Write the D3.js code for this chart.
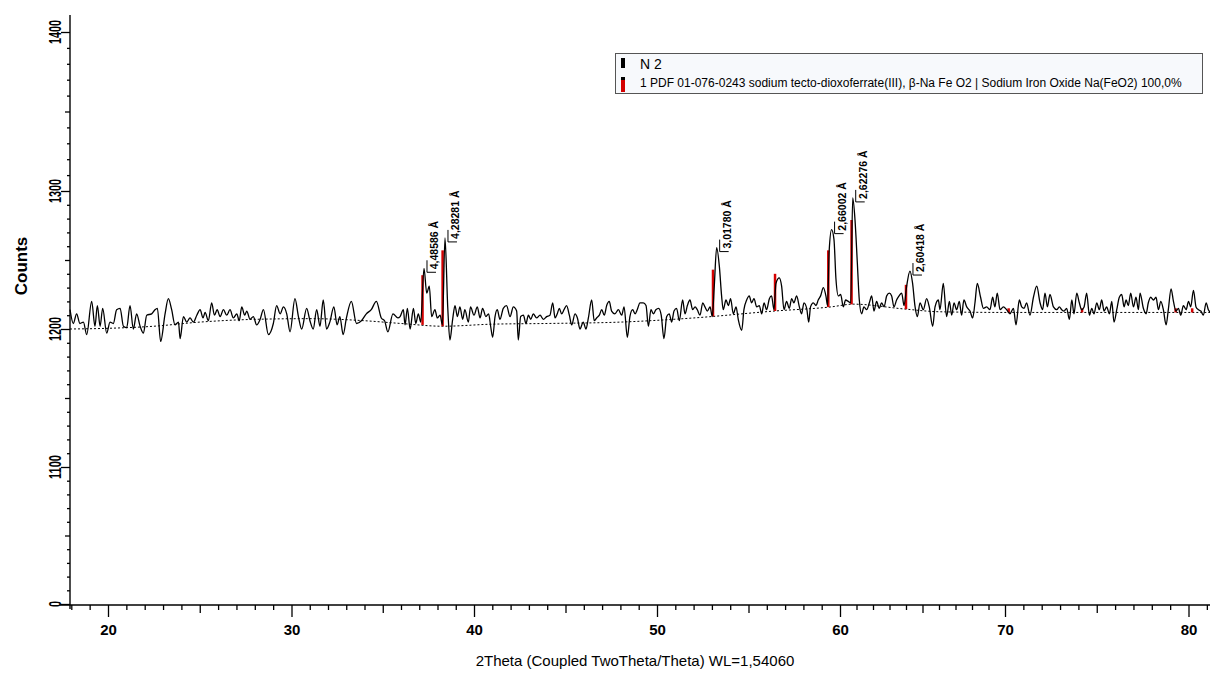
<!DOCTYPE html>
<html>
<head>
<meta charset="utf-8">
<script src="https://cdn.jsdelivr.net/npm/d3@7"></script>
<style>
  body { margin: 0; background: #fff; }
  svg { display: block; font-family: 'Liberation Sans', Arial, sans-serif; }
</style>
</head>
<body>
<svg id="chart" width="1210" height="679"></svg>
<script>
// scan: [2theta, counts]
let scan = [
  [17.93,1214],[18.11,1204],[18.29,1211],[18.47,1204],[18.66,1205],[18.84,1196],[19.11,1220],[19.29,1202],
  [19.42,1217],[19.57,1202],[19.71,1215],[19.93,1197],[20.11,1205],[20.29,1204],[20.47,1214],[20.66,1215],
  [20.84,1202],[21.02,1201],[21.20,1217],[21.38,1200],[21.56,1211],[21.75,1202],[21.93,1197],[22.11,1210],
  [22.38,1211],[22.56,1214],[22.69,1215],[22.87,1191],[23.11,1211],[23.29,1222],[23.47,1214],[23.65,1203],
  [23.84,1205],[23.93,1193],[24.11,1209],[24.29,1205],[24.47,1208],[24.65,1205],[24.84,1210],[25.02,1214],
  [25.18,1208],[25.29,1212],[25.47,1206],[25.65,1219],[25.80,1210],[25.95,1214],[26.11,1209],[26.29,1214],
  [26.47,1210],[26.65,1214],[26.83,1208],[27.02,1211],[27.15,1206],[27.29,1216],[27.45,1210],[27.56,1213],
  [27.74,1207],[27.92,1209],[28.10,1203],[28.29,1207],
  [28.47,1214],[28.74,1196],[29.01,1204],[29.19,1217],[29.38,1211],[29.56,1216],[29.74,1211],[29.92,1198],
  [30.19,1222],[30.38,1209],[30.56,1200],[30.83,1215],[31.01,1206],[31.19,1200],[31.38,1214],[31.56,1202],
  [31.74,1221],[31.92,1200],[32.10,1205],[32.32,1216],[32.50,1203],[32.65,1209],[32.83,1196],[33.01,1208],
  [33.28,1220],[33.56,1204],[33.83,1206],[34.10,1211],[34.37,1214],[34.65,1220],[34.92,1208],[35.10,1206],
  [35.28,1198],[35.56,1211],[35.83,1208],
  [35.95,1209],[36.13,1214],[36.22,1203],[36.35,1215],[36.50,1200],[36.68,1215],[36.81,1204],[36.95,1211],
  [37.08,1205],[37.26,1244],[37.41,1226],[37.55,1231],[37.68,1209],[37.86,1214],[37.99,1208],[38.14,1210],
  [38.27,1203],[38.41,1266],[38.56,1216],[38.68,1192],[38.83,1207],[38.96,1217],[39.09,1209],[39.23,1216],
  [39.38,1207],[39.50,1214],[39.69,1205],[39.81,1216],[40.00,1210],[40.18,1216],[40.33,1208],[40.47,1215],
  [40.65,1209],[40.80,1211],[40.91,1202],[41.02,1194],[41.15,1209],[41.27,1214],[41.42,1207],[41.60,1215],
  [41.78,1217],[41.97,1209],[42.15,1216],[42.33,1213],[42.42,1192],[42.55,1209],[42.70,1210],[42.84,1204],
  [42.97,1210],[43.10,1207],[43.24,1211],[43.42,1208],[43.61,1210],[43.79,1207],[43.97,1209],[44.15,1210],
  [44.30,1219],[44.43,1208],[44.55,1211],[44.66,1215],[44.79,1211],[44.92,1214],[45.06,1217],[45.21,1210],
  [45.34,1203],[45.52,1211],[45.65,1208],[45.79,1200],[45.97,1205],[46.12,1200],[46.25,1208],[46.43,1221],
  [46.57,1206],[46.70,1208],[46.85,1210],[46.98,1214],[47.12,1210],[47.25,1217],[47.39,1220],[47.52,1213],
  [47.70,1211],[47.89,1214],[48.07,1210],[48.20,1216],[48.38,1194],[48.52,1209],[48.67,1214],[48.80,1211],
  [48.92,1214],[49.07,1219],[49.25,1219],[49.40,1217],[49.53,1202],[49.67,1214],[49.80,1211],[49.94,1214],
  [50.09,1215],[50.23,1210],[50.38,1193],[50.53,1209],[50.67,1211],[50.80,1205],[50.93,1213],[51.07,1215],
  [51.22,1206],
  [51.40,1221],[51.53,1211],[51.66,1217],[51.80,1221],[51.95,1214],[52.08,1216],[52.20,1214],[52.35,1210],
  [52.50,1219],[52.62,1216],[52.75,1213],[52.90,1216],[53.02,1209],[53.13,1231],[53.26,1259],[53.41,1245],
  [53.53,1224],[53.62,1214],[53.77,1221],[53.90,1217],[54.02,1222],[54.17,1211],[54.32,1216],[54.44,1207],
  [54.63,1199],[54.75,1214],[54.90,1221],[55.04,1224],[55.17,1219],[55.30,1222],[55.45,1216],[55.59,1217],
  [55.72,1211],[55.85,1219],[55.99,1214],[56.14,1222],[56.26,1224],[56.39,1214],[56.50,1233],[56.68,1237],
  [56.81,1231],[56.94,1214],[57.08,1220],[57.23,1215],[57.36,1222],[57.48,1219],[57.63,1224],[57.78,1216],
  [57.90,1211],[58.03,1219],[58.18,1215],[58.29,1205],[58.39,1216],[58.54,1219],[58.69,1217],[58.81,1221],
  [58.94,1224],[59.09,1230],[59.23,1224],[59.32,1217],[59.41,1257],[59.54,1272],[59.67,1265],[59.78,1236],
  [59.91,1224],[60.04,1225],[60.20,1216],[60.34,1221],[60.50,1220],[60.65,1219],[60.77,1295],[60.91,1279],
  [61.05,1248],[61.17,1221],[61.31,1211],[61.45,1216],[61.62,1214],[61.78,1219],[61.92,1224],[62.06,1213],
  [62.22,1220],[62.38,1215],[62.52,1219],[62.67,1216],[62.83,1224],[62.99,1226],[63.13,1224],[63.27,1216],
  [63.43,1221],[63.58,1224],[63.74,1226],[63.88,1217],[64.04,1231],[64.24,1242],[64.40,1233],[64.54,1217],
  [64.69,1209],[64.85,1219],[65.05,1214],[65.25,1222],[65.41,1216],[65.62,1202],[65.76,1216],[65.96,1221],
  [66.06,1214],[66.26,1233],[66.46,1209],[66.63,1220],[66.77,1210],[66.91,1219],[67.07,1214],[67.23,1220],
  [67.37,1210],[67.51,1221],[67.68,1216],[67.88,1213],[68.04,1208],[68.18,1219],[68.32,1233],[68.52,1223],
  [68.69,1215],[68.89,1216],[69.09,1214],[69.25,1223],[69.39,1216],[69.53,1226],[69.70,1214],[69.90,1216],
  [70.09,1214],[70.27,1211],[70.46,1215],[70.60,1203],[70.78,1221],[70.91,1216],[71.04,1215],[71.18,1219],
  [71.36,1210],[71.55,1223],[71.73,1231],[71.91,1219],[72.05,1214],[72.18,1226],[72.31,1216],[72.45,1225],
  [72.64,1216],[72.82,1214],[72.96,1216],[73.09,1214],[73.22,1213],[73.36,1215],[73.51,1207],[73.64,1221],
  [73.76,1211],[73.91,1226],[74.05,1219],[74.18,1214],[74.31,1216],[74.45,1226],[74.60,1210],[74.73,1215],
  [74.85,1211],[75.00,1219],[75.14,1214],[75.27,1221],[75.40,1213],[75.54,1216],[75.69,1211],[75.82,1220],
  [75.94,1205],[76.09,1214],[76.23,1223],[76.36,1225],[76.49,1216],[76.60,1221],[76.72,1217],[76.85,1226],
  [77.00,1216],[77.14,1223],[77.27,1214],[77.36,1226],[77.54,1215],[77.69,1211],[77.81,1219],[77.94,1223],
  [78.09,1221],[78.23,1223],[78.36,1214],[78.49,1220],[78.63,1214],[78.78,1203],[78.90,1214],[79.05,1229],
  [79.18,1220],[79.32,1213],[79.45,1215],[79.58,1210],[79.72,1217],[79.87,1214],[80.00,1220],[80.12,1216],
  [80.27,1228],[80.41,1216],[80.54,1214],[80.67,1213],[80.81,1210],[80.96,1219],[81.08,1214],[81.20,1212]
]

// fitted background (dashed)
let background = [
  [17.93,1200],[20,1200.5],[22.5,1202],[25,1205],[28,1207],[31,1207.5],[34,1206],[36,1204],
  [38.3,1202],[41,1203.5],[44,1204],[48,1205],[52,1208],[56.4,1213],[59.5,1216],[60.8,1218],
  [63.9,1214.5],[66,1212.5],[70,1212],[81.2,1212]
]

// PDF 01-076-0243 stick positions: [2theta, top counts]
let refSticks = [
  [37.18,1239],[38.28,1257],[53.06,1243],[56.45,1240],[59.36,1257],[60.70,1279],[64.00,1232],
  [70.2,1215],[74.2,1215],[79.3,1215],[80.2,1215]
]

// d-spacing labels: [text, 2theta, counts]
let peakLabels = [
  ['4,48586 Å', 37.26, 1244],
  ['4,28281 Å', 38.41, 1266],
  ['3,01780 Å', 53.26, 1259],
  ['2,66002 Å', 59.54, 1272],
  ['2,62276 Å', 60.77, 1295],
  ['2,60418 Å', 64.24, 1242]
]

let xTicks = [20, 30, 40, 50, 60, 70, 80]
let yTicks = [0, 1100, 1200, 1300, 1400]
let legendLabels = ['N 2', '1 PDF 01-076-0243 sodium tecto-dioxoferrate(III), β-Na Fe O2 | Sodium Iron Oxide Na(FeO2) 100,0%']
let legendColors = ['#000', '#d40000']

let narrow = "'Liberation Sans Narrow', 'Liberation Sans', Arial, sans-serif"

let svg = d3.select('#chart')

let x = d3.scaleLinear()
    .domain(xTicks)
    .range([108, 291.5, 474, 657, 840, 1005, 1188.5])

// broken count axis: 0 sits where 1000 would be
let y = d3.scaleLinear()
    .domain(yTicks)
    .range([604, 467, 329, 191, 32])

let left = 70, right = 1210, bottom = 605

// x axis
let xMinor = d3.range(18, 82).filter(d => d % 5 !== 0)
let xMid = d3.range(25, 80, 10)

let xg = svg.append('g').attr('transform', `translate(0,${bottom})`)
xg.append('g').call(d3.axisBottom(x).tickValues(xMinor).tickSize(5).tickFormat(''))
xg.append('g').call(d3.axisBottom(x).tickValues(xMid).tickSize(8).tickFormat(''))
xg.append('g').call(d3.axisBottom(x).tickValues(xTicks).tickSize(12).tickPadding(7))
    .call(g => g.selectAll('text')
        .attr('font-size', 15).attr('font-weight', 'bold')
        .attr('font-family', narrow)
        .attr('fill', '#000'))
xg.selectAll('.domain').remove()
xg.selectAll('line').attr('stroke', '#000').attr('stroke-width', 1.3)
xg.append('line').attr('x1', left - 10).attr('x2', right).attr('stroke', '#000').attr('stroke-width', 1.4)

// y axis
let yMinor = d3.range(1110, 1400, 10).filter(d => d % 50 !== 0)
    .concat(d3.range(110, 1100, 110).filter(d => d !== 550))
let yMid = [550, 1150, 1250, 1350]

let yg = svg.append('g').attr('transform', `translate(${left},0)`)
yg.append('g').call(d3.axisLeft(y).tickValues(yMinor).tickSize(3).tickFormat(''))
yg.append('g').call(d3.axisLeft(y).tickValues(yMid).tickSize(5).tickFormat(''))
yg.append('g').call(d3.axisLeft(y).tickValues(yTicks).tickSize(9).tickFormat(''))
yg.selectAll('.domain').remove()
yg.selectAll('line').attr('stroke', '#000').attr('stroke-width', 1.3)
yg.append('line').attr('y1', 15).attr('y2', bottom + 4).attr('stroke', '#000').attr('stroke-width', 1.4)

yg.selectAll('.ylab')
    .data(yTicks)
    .enter().append('text')
    .attr('class', 'ylab')
    .attr('transform', d => `translate(-9,${y(d)}) rotate(-90)`)
    .attr('text-anchor', 'middle')
    .attr('font-size', 16)
    .attr('font-weight', 'bold')
    .attr('font-family', narrow)
    .attr('textLength', d => String(d).length * 6)
    .attr('lengthAdjust', 'spacingAndGlyphs')
    .text(d => d)

// axis titles
svg.append('text')
    .attr('transform', 'translate(27,266) rotate(-90)')
    .attr('text-anchor', 'middle')
    .attr('font-size', 17)
    .attr('font-weight', 'bold')
    .attr('font-family', narrow)
    .text('Counts')

svg.append('text')
    .attr('x', 635)
    .attr('y', 666)
    .attr('text-anchor', 'middle')
    .attr('font-size', 15)
    .text('2Theta (Coupled TwoTheta/Theta) WL=1,54060')

// plot
let plot = svg.append('g')

let bgLine = d3.line()
    .x(d => x(d[0]))
    .y(d => y(d[1]))
    .curve(d3.curveMonotoneX)

plot.append('path')
    .datum(background)
    .attr('d', bgLine)
    .attr('fill', 'none')
    .attr('stroke', '#000')
    .attr('stroke-width', 1)
    .attr('stroke-dasharray', '2,2')

let bgAt = d3.scaleLinear()
    .domain(background.map(d => d[0]))
    .range(background.map(d => d[1]))

plot.selectAll('.stick')
    .data(refSticks)
    .enter().append('line')
    .attr('class', 'stick')
    .attr('x1', d => x(d[0]))
    .attr('x2', d => x(d[0]))
    .attr('y1', d => y(bgAt(d[0])))
    .attr('y2', d => y(d[1]))
    .attr('stroke', '#d40000')
    .attr('stroke-width', 2.5)

let scanLine = d3.line()
    .x(d => x(d[0]))
    .y(d => y(d[1]))
    .curve(d3.curveMonotoneX)

plot.append('path')
    .datum(scan)
    .attr('d', scanLine)
    .attr('fill', 'none')
    .attr('stroke', '#000')
    .attr('stroke-width', 1.3)
    .attr('stroke-linejoin', 'round')

// peak labels
let labels = plot.selectAll('.peak')
    .data(peakLabels)
    .enter().append('g')
    .attr('class', 'peak')
    .attr('transform', d => `translate(${x(d[1])},${y(d[2])})`)

labels.append('path')
    .attr('d', 'M3,-8V4H12')
    .attr('fill', 'none')
    .attr('stroke', '#000')
    .attr('stroke-width', 1)

labels.append('text')
    .attr('transform', 'translate(14,1) rotate(-90)')
    .attr('font-size', 10.5)
    .attr('font-weight', 'bold')
    .attr('font-family', narrow)
    .text(d => d[0])

// legend
let legend = svg.append('g')
legend.append('rect')
    .attr('x', 615.5).attr('y', 53.5)
    .attr('width', 587).attr('height', 40)
    .attr('fill', '#f7f9fc')
    .attr('stroke', '#555')

let items = legend.selectAll('.item')
    .data(legendLabels)
    .enter().append('g')
    .attr('class', 'item')
    .attr('transform', (d, i) => `translate(0,${i === 0 ? 0 : 18})`)

items.append('rect')
    .attr('x', 621).attr('y', (d, i) => i === 0 ? 58 : 59)
    .attr('width', 4).attr('height', (d, i) => i === 0 ? 10 : 15)
    .attr('fill', (d, i) => legendColors[i])
items.filter((d, i) => i === 1).append('rect')
    .attr('x', 621).attr('y', 59).attr('width', 4).attr('height', 3).attr('fill', '#000')

items.append('text')
    .attr('x', 640)
    .attr('y', 69)
    .attr('font-size', (d, i) => i === 0 ? 14 : 12)
    .attr('font-family', narrow)
    .text(d => d)
</script>
</body>
</html>
